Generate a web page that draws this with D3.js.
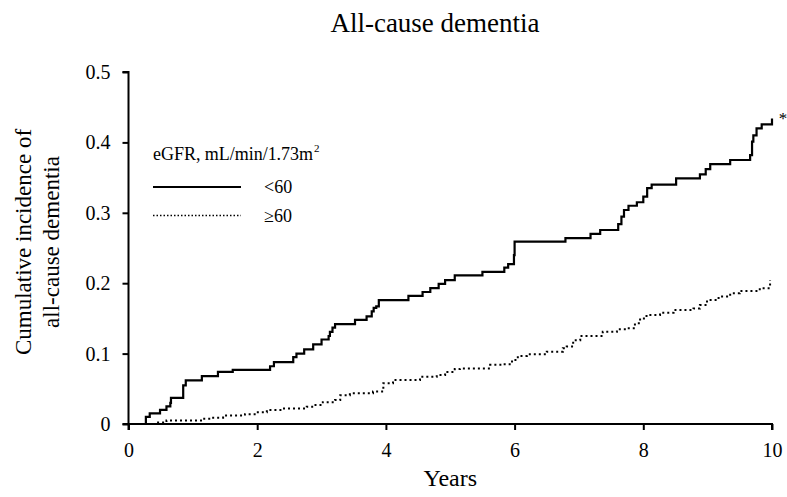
<!DOCTYPE html>
<html>
<head>
<meta charset="utf-8">
<script src="https://cdn.jsdelivr.net/npm/d3@7"></script>
<style>
  html, body { margin: 0; padding: 0; background: #fff; }
  svg { display: block; }
  text { font-family: "Liberation Serif", "Times New Roman", serif; fill: #000; }
</style>
</head>
<body>
<svg id="chart" width="787" height="497"></svg>
<script>
// ---- Data ----
const title = "All-cause dementia";
const xLabel = "Years";
const yLabelLines = ["Cumulative incidence of", "all-cause dementia"];
const legendTitle = "eGFR, mL/min/1.73m";
const seriesNames = ["<60", "\u226560"];
const xTicks = [0, 2, 4, 6, 8, 10];
const yTicks = [0, 0.1, 0.2, 0.3, 0.4, 0.5];
const yTickLabels = ["0", "0.1", "0.2", "0.3", "0.4", "0.5"];

// eGFR < 60 (solid)
const lowTimes = [0, 0.27, 0.33, 0.49, 0.59, 0.65, 0.66, 0.85, 0.89, 1.14, 1.39, 1.62, 2.20, 2.26, 2.56, 2.61, 2.73, 2.87, 3.00, 3.11, 3.13, 3.17, 3.21, 3.52, 3.70, 3.78, 3.81, 3.85, 3.89, 4.35, 4.57, 4.69, 4.82, 4.92, 5.07, 5.50, 5.84, 5.90, 5.99, 6.00, 6.79, 7.18, 7.33, 7.61, 7.66, 7.70, 7.77, 7.90, 8.00, 8.06, 8.13, 8.51, 8.88, 8.97, 9.04, 9.35, 9.66, 9.69, 9.71, 9.76, 9.84, 10.0];
const lowValues = [0, 0.010, 0.015, 0.020, 0.025, 0.030, 0.037, 0.055, 0.062, 0.068, 0.074, 0.077, 0.082, 0.088, 0.095, 0.100, 0.106, 0.113, 0.120, 0.125, 0.131, 0.137, 0.142, 0.148, 0.153, 0.160, 0.165, 0.167, 0.176, 0.182, 0.1875, 0.193, 0.199, 0.2045, 0.211, 0.216, 0.222, 0.227, 0.240, 0.259, 0.264, 0.270, 0.2756, 0.284, 0.2945, 0.304, 0.310, 0.315, 0.323, 0.335, 0.340, 0.349, 0.3547, 0.362, 0.369, 0.375, 0.382, 0.401, 0.410, 0.420, 0.4257, 0.434];

// eGFR >= 60 (dotted)
const highTimes = [0, 0.41, 0.59, 1.16, 1.27, 1.47, 1.81, 1.99, 2.15, 2.40, 2.77, 2.87, 3.02, 3.21, 3.29, 3.44, 3.80, 3.96, 4.11, 4.53, 4.79, 4.92, 5.07, 5.15, 5.62, 5.82, 5.96, 6.05, 6.19, 6.50, 6.75, 6.81, 6.91, 7.02, 7.37, 7.59, 7.74, 7.87, 7.95, 8.05, 8.26, 8.47, 8.78, 8.88, 8.99, 9.17, 9.35, 9.50, 9.81, 9.97];
const highValues = [0, 0.002, 0.005, 0.0075, 0.009, 0.012, 0.014, 0.0166, 0.020, 0.022, 0.0246, 0.027, 0.031, 0.034, 0.041, 0.0436, 0.046, 0.058, 0.0625, 0.067, 0.0696, 0.074, 0.078, 0.079, 0.084, 0.085, 0.091, 0.0966, 0.099, 0.1027, 0.1075, 0.110, 0.119, 0.125, 0.131, 0.1345, 0.136, 0.143, 0.150, 0.155, 0.158, 0.162, 0.164, 0.169, 0.176, 0.181, 0.1856, 0.189, 0.193, 0.2045];

// ---- Chart ----
const svg = d3.select("#chart");
const x = d3.scaleLinear().domain([0, 10]).range([128.5, 772]);
const y = d3.scaleLinear().domain([0, 0.5]).range([424, 72]);

// Title
svg.append("text").attr("x", 435).attr("y", 32)
  .attr("text-anchor", "middle").attr("font-size", 27).text(title);

// Axes
const xAxis = svg.append("g").attr("transform", `translate(0,${y(0)})`)
  .call(d3.axisBottom(x).tickValues(xTicks).tickSize(6).tickPadding(13).tickFormat(d3.format("d")));
const yAxis = svg.append("g").attr("transform", `translate(${x(0)},0)`)
  .call(d3.axisLeft(y).tickValues(yTicks).tickSize(6).tickPadding(12)
    .tickFormat((d, i) => yTickLabels[i]));
[xAxis, yAxis].forEach(g => {
  g.select(".domain").attr("stroke", "#000").attr("stroke-width", 2);
  g.selectAll(".tick line").attr("stroke", "#000").attr("stroke-width", 2);
  g.selectAll(".tick text").attr("font-family", "Liberation Serif, serif").attr("font-size", 20).attr("fill", "#000");
});
xAxis.select(".domain").attr("d", `M${x(0)},6V0H${x(10)}V6`);
yAxis.select(".domain").attr("d", `M-6,${y(0.5)}H0V${y(0)}H-6`);

// Axis labels
svg.append("text").attr("x", x(5)).attr("y", 486)
  .attr("text-anchor", "middle").attr("font-size", 24).text(xLabel);
const yl = svg.append("text").attr("transform", "translate(31,242) rotate(-90)")
  .attr("text-anchor", "middle").attr("font-size", 23);
yl.append("tspan").attr("x", 0).attr("dy", 0).text(yLabelLines[0]);
yl.append("tspan").attr("x", 0).attr("dy", 28).text(yLabelLines[1]);

// Lines
const line = d3.line().x(d => x(d[0])).y(d => y(d[1])).curve(d3.curveStepAfter);
const lowData = lowTimes.map((t, i) => [t, lowValues[i]]);
const highData = highTimes.map((t, i) => [t, highValues[i]]);

svg.append("path").datum(highData).attr("d", line)
  .attr("fill", "none").attr("stroke", "#000").attr("stroke-width", 2)
  .attr("stroke-dasharray", "2,3");
svg.append("path").datum(lowData).attr("d", line)
  .attr("fill", "none").attr("stroke", "#000").attr("stroke-width", 2.2);

// Asterisk
svg.append("text").attr("x", 783).attr("y", 124)
  .attr("text-anchor", "middle").attr("font-size", 17).text("*");

// Legend
const lt = svg.append("text").attr("x", 153).attr("y", 160).attr("font-size", 18).attr("textLength", 160);
lt.text(legendTitle);
svg.append("text").attr("x", 314).attr("y", 152).attr("font-size", 11).text("2");

svg.append("line").attr("x1", 153).attr("x2", 241).attr("y1", 187).attr("y2", 187)
  .attr("stroke", "#000").attr("stroke-width", 2);
svg.append("line").attr("x1", 153).attr("x2", 241).attr("y1", 215.5).attr("y2", 215.5)
  .attr("stroke", "#000").attr("stroke-width", 1.5).attr("stroke-dasharray", "1.5,2");
svg.append("text").attr("x", 264).attr("y", 193).attr("font-size", 18).text(seriesNames[0]);
svg.append("text").attr("x", 264).attr("y", 222).attr("font-size", 18).text(seriesNames[1]);
</script>
</body>
</html>
